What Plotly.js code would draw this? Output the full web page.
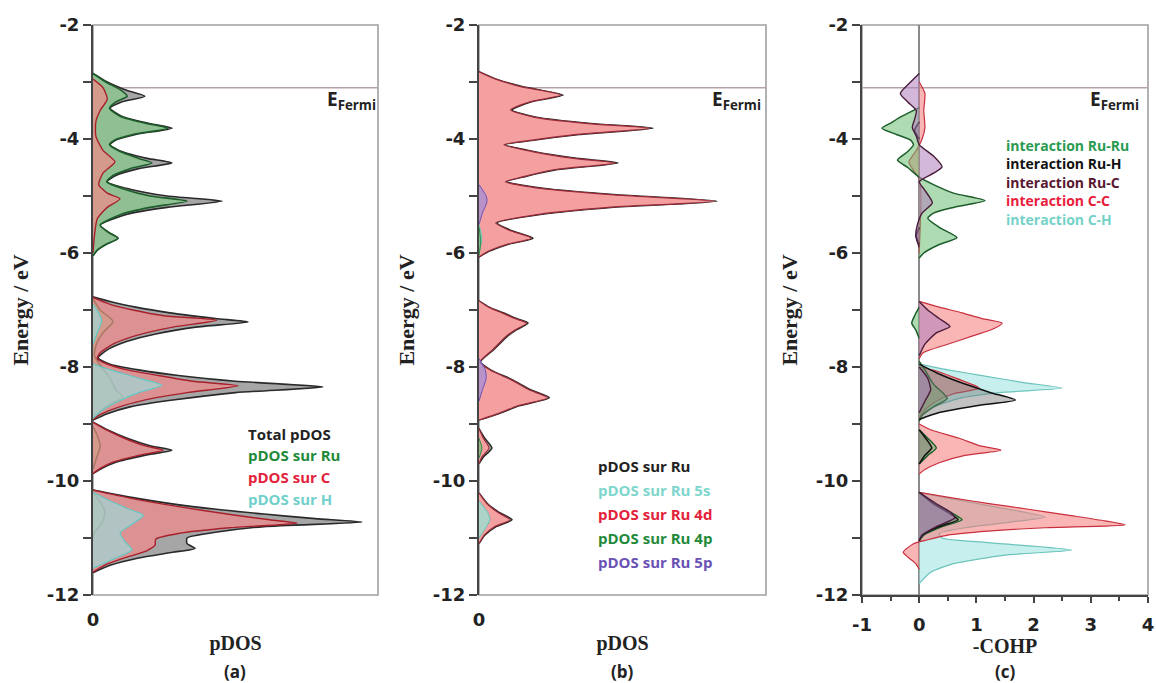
<!DOCTYPE html>
<html>
<head>
<meta charset="utf-8">
<script src="https://cdn.plot.ly/plotly-3.0.1.min.js"></script>
<style>html,body{margin:0;padding:0;background:#fff;}#chart{width:1156px;height:683px;}</style>
</head>
<body>
<div id="chart"></div>
<script>
// ---------------- DATA ----------------
const fermiEnergy = -3.1;
const yTickVals = [-12,-10,-8,-6,-4,-2];
const yTickText = ['-12','-10','-8','-6','-4','-2'];
const yMinorVals = [-11,-9,-7,-5,-3];
const cTickVals = [-1,0,1,2,3,4];
const cTickText = ['-1','0','1','2','3','4'];
const cMinorVals = [-0.5,0.5,1.5,2.5,3.5];

// Panel (a): pDOS (arbitrary units)
const aTotE = [-2.85,-3.0,-3.15,-3.25,-3.35,-3.46,-3.6,-3.72,-3.81,-3.92,-4.02,-4.1,-4.22,-4.34,-4.42,-4.52,-4.64,-4.75,-4.88,-5.0,-5.09,-5.2,-5.32,-5.51,-5.64,-5.74,-5.85,-5.95,-6.05,null,
  -6.77,-6.85,-6.95,-7.05,-7.15,-7.21,-7.3,-7.42,-7.55,-7.7,-7.84,-7.95,-8.05,-8.15,-8.25,-8.35,-8.45,-8.58,-8.7,-8.82,-8.93,null,
  -8.97,-9.1,-9.25,-9.38,-9.46,-9.55,-9.67,-9.78,-9.87,null,
  -10.16,-10.3,-10.45,-10.58,-10.66,-10.72,-10.8,-10.9,-11.0,-11.1,-11.18,-11.25,-11.35,-11.48,-11.61];
const aTotV = [0,0.5,1.2,1.82,1.0,0.6,1.0,1.9,2.77,1.5,0.8,0.6,1.0,1.9,2.77,1.6,0.8,0.5,1.3,2.6,4.53,2.6,1.2,0.25,0.55,0.88,0.45,0.15,0,null,
  0,0.6,1.5,2.7,4.3,5.44,3.6,2.2,1.2,0.5,0.18,0.6,1.6,3.0,5.0,8.07,5.0,2.8,1.3,0.5,0,null,
  0,0.5,1.2,2.0,2.77,1.8,0.8,0.3,0,null,
  0,1.5,3.5,6.0,7.8,9.44,6.0,4.3,3.3,3.3,3.58,2.8,1.6,0.6,0];

const aRuE = [-2.85,-3.0,-3.15,-3.25,-3.35,-3.46,-3.6,-3.72,-3.81,-3.92,-4.02,-4.1,-4.22,-4.34,-4.42,-4.52,-4.64,-4.75,-4.88,-5.0,-5.09,-5.2,-5.32,-5.51,-5.64,-5.74,-5.85,-5.95,-6.05,null,
  -6.8,-7.0,-7.2,-7.4,-7.6,-7.8,-8.0,-8.2,-8.4,-8.53,-8.65,-8.8,-8.93,null,
  -9.05,-9.2,-9.4,-9.6,-9.8,null,
  -10.2,-10.4,-10.56,-10.75,-10.9,-11.0];
const aRuV = [0,0.45,1.0,1.2,0.8,0.58,0.95,1.8,2.63,1.4,0.75,0.58,0.95,1.6,2.07,1.3,0.7,0.48,1.1,2.0,3.3,2.0,1.0,0.25,0.55,0.88,0.45,0.15,0,null,
  0,0.25,0.7,0.35,0.12,0.05,0.3,0.6,0.8,1.05,0.6,0.2,0,null,
  0,0.15,0.25,0.12,0,null,
  0,0.3,0.42,0.3,0.05,0];

const aCE = [-2.95,-3.1,-3.3,-3.5,-3.7,-3.95,-4.2,-4.4,-4.6,-4.8,-4.95,-5.05,-5.2,-5.4,-5.7,-6.0,null,
  -6.78,-6.9,-7.0,-7.1,-7.18,-7.3,-7.45,-7.6,-7.75,-7.85,-7.95,-8.05,-8.15,-8.25,-8.33,-8.45,-8.58,-8.72,-8.85,-8.93,null,
  -8.97,-9.1,-9.25,-9.38,-9.46,-9.55,-9.67,-9.78,-9.87,null,
  -10.16,-10.3,-10.45,-10.6,-10.68,-10.74,-10.82,-10.92,-11.02,-11.12,-11.22,-11.35,-11.48,-11.6];
const aCV = [0,0.35,0.5,0.25,0.1,0.1,0.35,0.77,0.35,0.2,0.5,0.95,0.5,0.15,0.05,0,null,
  0,0.6,1.4,2.5,4.35,2.8,1.5,0.7,0.25,0.15,0.5,1.2,2.3,3.5,5.09,3.3,1.8,0.8,0.2,0,null,
  0,0.45,1.1,1.8,2.46,1.6,0.7,0.25,0,null,
  0,1.3,3.0,5.0,6.2,7.16,4.8,3.0,2.2,2.18,1.9,1.1,0.4,0];

const aHE = [-6.9,-7.05,-7.2,-7.4,-7.6,null,
  -7.95,-8.05,-8.18,-8.32,-8.45,-8.6,-8.75,-8.9,null,
  -10.2,-10.35,-10.5,-10.6,-10.75,-10.91,-11.05,-11.21,-11.35,-11.53];
const aHV = [0,0.2,0.3,0.15,0,null,
  0,0.6,1.5,2.42,1.6,0.9,0.35,0,null,
  0,0.6,1.3,1.77,1.4,0.95,1.1,1.37,0.8,0];

// Panel (b): pDOS on Ru, by orbital
const bRuE = [-2.82,-2.95,-3.08,-3.23,-3.35,-3.49,-3.62,-3.73,-3.81,-3.92,-4.02,-4.1,-4.22,-4.34,-4.42,-4.54,-4.66,-4.75,-4.87,-4.98,-5.09,-5.2,-5.32,-5.47,-5.6,-5.74,-5.85,-5.97,-6.07,null,
  -6.84,-6.95,-7.05,-7.15,-7.23,-7.35,-7.47,-7.7,-7.91,-8.05,-8.23,-8.4,-8.54,-8.68,-8.81,-8.93,null,
  -9.08,-9.25,-9.42,-9.58,-9.7,null,
  -10.21,-10.4,-10.55,-10.68,-10.8,-10.95,-11.1];
const bRuV = [0,0.6,1.5,2.93,1.8,1.15,2.0,3.9,6.06,3.5,1.9,0.91,1.9,3.4,4.84,2.7,1.6,0.97,2.3,4.8,8.29,4.6,2.2,0.63,1.1,1.88,1.0,0.35,0,null,
  0,0.35,0.84,1.3,1.71,1.3,0.97,0.5,0.05,0.4,1.19,1.8,2.45,1.4,0.73,0,null,
  0,0.2,0.45,0.15,0,null,
  0,0.3,0.7,1.15,0.6,0.2,0];
const b4dV = [0,0.58,1.45,2.85,1.75,1.1,1.95,3.8,5.95,3.4,1.85,0.87,1.85,3.3,4.75,2.6,1.55,0.92,2.2,4.7,8.2,4.5,2.1,0.58,1.05,1.82,0.95,0.32,0,null,
  0,0.33,0.8,1.25,1.66,1.25,0.93,0.47,0.04,0.37,1.14,1.74,2.4,1.35,0.7,0,null,
  0,0.15,0.35,0.1,0,null,
  0,0.28,0.65,1.08,0.55,0.18,0];
const b5sE = [-5.5,-5.75,-6.0,null,-10.35,-10.55,-10.68,-10.85,-11.0];
const b5sV = [0,0.1,0,null,0,0.3,0.38,0.2,0];
const b4pE = [-5.55,-5.8,-6.05,null,-9.25,-9.42,-9.6];
const b4pV = [0,0.06,0,null,0,0.1,0];
const b5pE = [-4.8,-5.0,-5.1,-5.3,-5.5,null,-7.85,-8.05,-8.2,-8.4,-8.6];
const b5pV = [0,0.25,0.28,0.12,0,null,0,0.22,0.25,0.12,0];

// Panel (c): -COHP
const cRuRuE = [-3.45,-3.6,-3.72,-3.81,-3.92,-4.02,-4.1,-4.22,-4.37,-4.5,-4.67,-4.8,-4.95,-5.08,-5.2,-5.3,-5.39,-5.55,-5.73,-5.85,-6.0,-6.09,null,
  -6.95,-7.1,-7.23,-7.35,-7.5,null,
  -7.9,-8.05,-8.3,-8.55,-8.7,-8.85,-8.95,null,
  -9.1,-9.3,-9.42,-9.55,-9.7,null,
  -10.2,-10.4,-10.55,-10.68,-10.8,-10.95,-11.05];
const cRuRuV = [0,-0.3,-0.5,-0.65,-0.4,-0.15,-0.1,-0.2,-0.38,-0.2,0,0.25,0.6,1.15,0.6,0.25,0.15,0.35,0.66,0.35,0.08,0,null,
  0,-0.08,-0.13,-0.06,0,null,
  0,0.1,0.25,0.49,0.25,0.05,0,null,
  0,0.2,0.3,0.15,0,null,
  0,0.25,0.55,0.75,0.4,0.08,0];
const cRuHE = [-3.7,-3.85,-4.0,null,-5.55,-5.7,-5.85,null,
  -7.95,-8.1,-8.3,-8.45,-8.58,-8.68,-8.8,-8.92,null,
  -9.1,-9.3,-9.42,-9.55,-9.7,null,
  -10.2,-10.4,-10.55,-10.68,-10.8,-10.95,-11.05];
const cRuHV = [0,-0.08,0,null,0,-0.05,0,null,
  0,0.3,0.8,1.25,1.68,1.0,0.35,0,null,
  0,0.15,0.22,0.1,0,null,
  0,0.25,0.5,0.68,0.35,0.05,0];
const cRuCE = [-2.85,-3.0,-3.2,-3.35,-3.5,-3.65,-3.8,-3.95,-4.1,-4.3,-4.49,-4.6,-4.75,-4.9,-5.12,-5.3,-5.5,-5.7,-5.9,null,
  -6.85,-7.0,-7.15,-7.29,-7.4,-7.6,-7.8,null,
  -8.0,-8.2,-8.4,-8.6,-8.8,null,
  -10.2,-10.4,-10.55,-10.65,-10.8,-10.95,-11.05];
const cRuCV = [0,-0.15,-0.33,-0.2,-0.05,-0.08,-0.12,-0.05,0,0.25,0.4,0.25,0,0.1,0.23,0.05,-0.03,-0.06,0,null,
  0,0.15,0.35,0.54,0.3,0.1,0,null,
  0,0.15,0.2,0.1,0,null,
  0,0.3,0.55,0.62,0.3,0.05,0];
const cCCE = [-3.0,-3.2,-3.5,-3.8,-4.0,-4.2,-4.4,-4.55,-4.7,-5.0,-5.5,-6.0,null,
  -6.85,-6.95,-7.05,-7.15,-7.23,-7.33,-7.45,-7.6,-7.75,-7.85,null,
  -8.0,-8.07,-8.2,-8.37,-8.47,-8.6,-8.75,-8.9,null,
  -9.0,-9.1,-9.25,-9.38,-9.46,-9.55,-9.68,-9.8,-9.88,null,
  -10.2,-10.3,-10.4,-10.5,-10.6,-10.7,-10.77,-10.82,-10.88,-10.95,-11.03,-11.1,-11.25,-11.35,-11.45,-11.55];
const cCCV = [0,0.1,0.08,0.1,0.05,-0.05,-0.18,-0.1,0,0.03,0.02,0,null,
  0,0.35,0.75,1.1,1.45,1.3,0.95,0.5,0.07,0,null,
  0,0.3,0.65,1.05,0.6,0.3,0.1,0,null,
  0,0.2,0.7,1.05,1.43,0.8,0.35,0.1,0,null,
  0,0.6,1.25,1.94,2.6,3.25,3.6,2.2,1.2,0.5,0.15,-0.1,-0.28,-0.18,-0.06,0];
const cCHE = [-7.95,-8.05,-8.15,-8.27,-8.37,-8.45,-8.55,-8.7,-8.85,null,
  -10.2,-10.3,-10.45,-10.63,-10.72,-10.82,-10.92,-11.0,-11.08,-11.21,-11.3,-11.45,-11.6,-11.8];
const cCHV = [0,0.5,1.1,1.8,2.5,1.4,0.7,0.25,0,null,
  0,0.5,1.3,2.2,1.6,0.8,0.35,0.4,1.2,2.67,1.5,0.6,0.2,0];

const legendA = ['Total pDOS','pDOS sur Ru','pDOS sur C','pDOS sur H'];
const legendB = ['pDOS sur Ru','pDOS sur Ru 5s','pDOS sur Ru 4d','pDOS sur Ru 4p','pDOS sur Ru 5p'];
const legendC = ['interaction Ru-Ru','interaction Ru-H','interaction Ru-C','interaction C-C','interaction C-H'];
const yTitle = 'Energy / eV';
const xTitles = ['pDOS', 'pDOS', '-COHP'];
const panelTags = ['(a)', '(b)', '(c)'];

// ---------------- DRAW ----------------
const W = 1156, H = 683;
const px = v => v / W;
const py = v => 1 - v / H;

function curve(x, y, ax, fillcolor, linecolor, width) {
  return {
    type: 'scatter', mode: 'lines', x: x, y: y,
    xaxis: 'x' + ax, yaxis: 'y' + ax,
    fill: 'tozerox', fillcolor: fillcolor,
    line: {color: linecolor, width: width || 1.5, shape: 'spline', smoothing: 0.6},
    connectgaps: false, hoverinfo: 'skip', showlegend: false
  };
}

const traces = [
  curve(aTotV, aTotE, '', 'rgba(150,150,150,0.85)', '#2a2a2a', 1.6),
  curve(aRuV, aRuE, '', 'rgba(130,205,135,0.65)', '#1c5e2a', 1.6),
  curve(aCV, aCE, '', 'rgba(247,135,135,0.66)', '#a8202c', 1.4),
  curve(aHV, aHE, '', 'rgba(150,228,228,0.6)', '#62c9c4', 1.2),

  curve(bRuV, bRuE, '2', 'rgba(150,150,150,0.8)', '#2a2a2a', 1.6),
  curve(b4dV, bRuE, '2', 'rgba(244,160,160,1)', '#9a2a38', 1.2),
  curve(b5sV, b5sE, '2', 'rgba(150,228,215,0.75)', '#5fc6b8', 1),
  curve(b4pV, b4pE, '2', 'rgba(110,190,120,0.7)', '#2a8a40', 1),
  curve(b5pV, b5pE, '2', 'rgba(160,140,220,0.7)', '#6a52b5', 1),

  curve(cCHV, cCHE, '3', 'rgba(160,228,225,0.6)', '#6cc3bd', 1.2),
  curve(cCCV, cCCE, '3', 'rgba(245,120,120,0.55)', '#c8303e', 1.2),
  curve(cRuRuV, cRuRuE, '3', 'rgba(110,190,115,0.55)', '#1c5e2a', 1.5),
  curve(cRuHV, cRuHE, '3', 'rgba(120,120,120,0.45)', '#111111', 1.6),
  curve(cRuCV, cRuCE, '3', 'rgba(175,125,185,0.55)', '#4a1d3c', 1.4)
];

const tickFont = {family: 'DejaVu Sans', size: 18, color: '#222', weight: 'bold'};
const serifY = {family: 'Liberation Serif', size: 22, color: '#222', weight: 'bold'};
const serifX = {family: 'Liberation Serif', size: 20, color: '#222', weight: 'bold'};
const yDomain = [py(595), py(25)];
function yAx(anchor) {
  return {domain: yDomain, range: [-12, -2], anchor: anchor, showgrid: false, zeroline: false,
    showline: true, linecolor: '#444', linewidth: 2, ticks: 'outside', ticklen: 8, tickwidth: 2,
    tickcolor: '#444', tickmode: 'array', tickvals: yTickVals, ticktext: yTickText, tickfont: tickFont,
    minor: {tickmode: 'array', tickvals: yMinorVals, ticks: 'outside', ticklen: 8, tickwidth: 2, tickcolor: '#444'},
    title: {text: yTitle, font: serifY, standoff: 12},
    fixedrange: true};
}
function xPdos(domain, anchor, title) {
  return {domain: domain, range: [0, 10], anchor: anchor, showgrid: false, zeroline: false,
    showline: false, tickmode: 'array', tickvals: [0], ticktext: ['0'], ticks: '',
    tickfont: tickFont, ticklabelstandoff: 12,
    title: {text: title, font: serifX, standoff: 6},
    fixedrange: true};
}

const layout = {
  width: W, height: H, margin: {l: 0, r: 0, t: 0, b: 0},
  paper_bgcolor: '#fff', plot_bgcolor: '#fff', showlegend: false,
  xaxis: xPdos([px(93), px(378)], 'y', xTitles[0]),
  yaxis: yAx('x'),
  xaxis2: xPdos([px(479), px(766)], 'y2', xTitles[1]),
  yaxis2: yAx('x2'),
  xaxis3: {domain: [px(862), px(1148)], range: [-1, 4], anchor: 'y3', showgrid: false,
    zeroline: true, zerolinecolor: '#8a8a8a', zerolinewidth: 1.5,
    showline: true, linecolor: '#444', linewidth: 2, ticks: 'outside', ticklen: 6, tickwidth: 2,
    tickcolor: '#444', tickmode: 'array', tickvals: cTickVals, ticktext: cTickText,
    tickfont: tickFont, ticklabelstandoff: 6,
    minor: {tickmode: 'array', tickvals: cMinorVals, ticks: 'outside', ticklen: 4, tickwidth: 2, tickcolor: '#444'},
    title: {text: xTitles[2], font: serifX, standoff: 4},
    fixedrange: true},
  yaxis3: yAx('x3'),
  shapes: [],
  annotations: []
};

['', '2', '3'].forEach(ax => {
  layout.shapes.push({type: 'rect', xref: 'x' + ax + ' domain', yref: 'y' + ax + ' domain',
    x0: 0, x1: 1, y0: 0, y1: 1, line: {color: '#a0a0a0', width: 1.6}, layer: 'below'});
  layout.shapes.push({type: 'line', xref: 'x' + ax + ' domain', yref: 'y' + ax,
    x0: 0, x1: 1, y0: fermiEnergy, y1: fermiEnergy, line: {color: '#b8a2aa', width: 1.6}, layer: 'below'});
});

const legFont = (size, color) => ({family: 'Open Sans', size: size, color: color, weight: 'bold'});
function note(text, x, y, font, extra) {
  layout.annotations.push(Object.assign({text: text, xref: 'paper', yref: 'paper', x: px(x), y: py(y),
    xanchor: 'left', yanchor: 'middle', showarrow: false, font: font}, extra || {}));
}

// E Fermi labels
[325, 710, 1088].forEach(x => note('E<sub>Fermi</sub>', x, 100, legFont(19, '#222')));

// legends
const colA = ['#222222', '#1f8a3a', '#e3223c', '#72d0cc'];
legendA.forEach((t, i) => note(t, 246, 434 + i * 21.5, legFont(15, colA[i])));
const colB = ['#222222', '#7ed6cc', '#e3223c', '#1f8a3a', '#6a52b5'];
legendB.forEach((t, i) => note(t, 596, 466 + i * 24, legFont(15, colB[i])));
const colC = ['#2a9a50', '#111111', '#5a1830', '#e8203c', '#74d2c8'];
legendC.forEach((t, i) => note(t, 1004, 145 + i * 18.6, legFont(14, colC[i])));

// panel tags
const sansB = {family: 'Open Sans', size: 17, color: '#222', weight: 'bold'};
[235, 622, 1005].forEach((x, i) => note(panelTags[i], x, 671, sansB, {xanchor: 'center'}));

Plotly.newPlot('chart', traces, layout, {displayModeBar: false, staticPlot: true});
</script>
</body>
</html>
